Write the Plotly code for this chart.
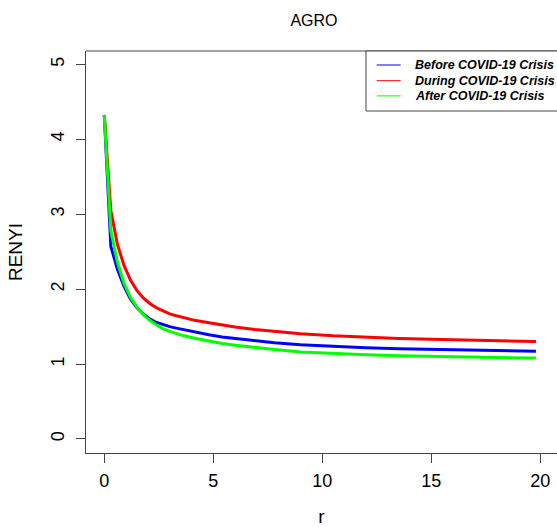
import plotly.graph_objects as go

# ---- data ----
r_values = [0, 0.3, 0.6, 0.9, 1.2, 1.5, 1.8, 2.1, 2.4, 2.7, 3.0, 3.3, 3.6, 4.2, 4.8, 5.4,
            6.0, 6.9, 7.8, 9.0, 10.5, 12.0, 13.5, 15.0, 16.5, 18.0, 19.8]
renyi_before = [4.32, 2.57, 2.27, 2.04, 1.87, 1.75, 1.665, 1.60, 1.555, 1.525, 1.50, 1.48,
                1.46, 1.425, 1.39, 1.36, 1.34, 1.31, 1.285, 1.258, 1.234, 1.216, 1.203,
                1.193, 1.184, 1.177, 1.17]
renyi_during = [4.32, 3.05, 2.60, 2.32, 2.12, 1.98, 1.88, 1.805, 1.75, 1.705, 1.67, 1.645,
                1.62, 1.58, 1.55, 1.52, 1.495, 1.46, 1.435, 1.405, 1.377, 1.357, 1.342,
                1.33, 1.32, 1.31, 1.30]
renyi_after = [4.32, 2.78, 2.36, 2.08, 1.89, 1.76, 1.655, 1.58, 1.52, 1.47, 1.435, 1.405,
               1.38, 1.34, 1.305, 1.275, 1.25, 1.22, 1.195, 1.162, 1.14, 1.124, 1.111,
               1.10, 1.092, 1.086, 1.08]

series_names = ["Before COVID-19 Crisis", "During COVID-19 Crisis", "After COVID-19 Crisis"]
series_colors = ["#0000FF", "#FF0000", "#00FF00"]
x_ticks = [0, 5, 10, 15, 20]
y_ticks = [0, 1, 2, 3, 4, 5]
chart_title = "AGRO"
x_label = "r"
y_label = "RENYI"

FONT = "Liberation Sans, Arial, Helvetica, sans-serif"
AXIS_COLOR = "#444444"

fig = go.Figure()
for name, vals, col in zip(series_names, [renyi_before, renyi_during, renyi_after], series_colors):
    fig.add_trace(go.Scatter(x=r_values, y=vals, mode="lines", name=name,
                             line=dict(color=col, width=3), showlegend=False))

W, H = 557, 527
L, R, T, B = 86, 0, 51, 74
pw = W - L - R
ph = H - T - B

def px(xp):
    return (xp - L) / pw

def py(yp):
    return (H - B - yp) / ph

fig.update_layout(
    width=W, height=H,
    margin=dict(l=L, r=R, t=T, b=B),
    paper_bgcolor="white", plot_bgcolor="white",
    font=dict(family=FONT, color="black"),
    title=dict(text=chart_title, x=px(314), xref="paper", xanchor="center",
               y=1 - 20 / H, yref="container", yanchor="middle",
               font=dict(size=16, family=FONT, color="black")),
    xaxis=dict(range=[-0.839, 20.766], tickvals=x_ticks, ticktext=[str(v) for v in x_ticks],
               showgrid=False, zeroline=False, showline=True, linecolor=AXIS_COLOR, linewidth=1,
               ticks="outside", ticklen=9, tickcolor=AXIS_COLOR, tickwidth=1,
               ticklabelstandoff=2,
               tickfont=dict(size=18, family=FONT, color="black"),
               title=dict(text=x_label, font=dict(size=19, family=FONT, color="black"), standoff=22)),
    yaxis=dict(range=[-0.187, 5.178], tickvals=y_ticks, ticktext=[str(v) for v in y_ticks],
               showgrid=False, zeroline=False, showline=True, linecolor=AXIS_COLOR, linewidth=1,
               ticks="outside", ticklen=9, tickcolor=AXIS_COLOR, tickwidth=1, tickangle=-90,
               ticklabelstandoff=5,
               tickfont=dict(size=18, family=FONT, color="black"),
               title=dict(text=y_label, font=dict(size=19, family=FONT, color="black"), standoff=20)),
)

# top border of the plot frame (right border lies outside the picture)
fig.add_shape(type="line", xref="paper", yref="paper", x0=0, x1=1, y0=1, y1=1,
              line=dict(color=AXIS_COLOR, width=1))

# legend box (its right side runs off the picture)
fig.add_shape(type="rect", xref="paper", yref="paper", x0=px(366), x1=1.1, y0=py(111), y1=1,
              line=dict(color=AXIS_COLOR, width=1), fillcolor="white", layer="above")
legend_rows = [65, 80.7, 95.9]
for name, col, yy in zip(series_names, series_colors, legend_rows):
    fig.add_shape(type="line", xref="paper", yref="paper", x0=px(376.7), x1=px(400.7),
                  y0=py(yy), y1=py(yy), line=dict(color=col, width=1), layer="above")
    fig.add_annotation(text=name, xref="paper", yref="paper", x=px(413), y=py(yy),
                       xanchor="left", yanchor="middle", showarrow=False,
                       font=dict(size=12.5, family=FONT, color="black", weight="bold", style="italic"))

fig.write_html("out.html")
